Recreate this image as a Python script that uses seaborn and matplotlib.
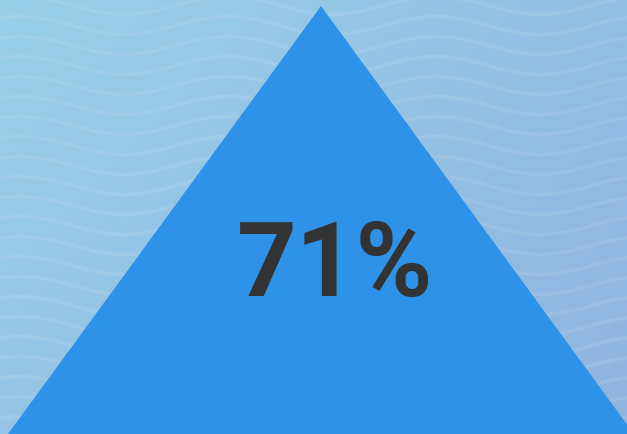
import numpy as np
import seaborn as sns
import matplotlib.pyplot as plt
from matplotlib.colors import LinearSegmentedColormap

# Chart data
value = 71
label = f"{value}%"

# Canvas size in pixels
W, H = 627, 434

# Styling
bg_colors = ["#99cfea", "#8fb4df"]
shape_color = "#2e93e8"
text_color = "#333333"
wave_spacing = 20
wave_period = 208
wave_amp = 9

sns.set_theme(style="white")
plt.rcParams['font.family'] = ['Roboto', 'DejaVu Sans']

fig = plt.figure(figsize=(W / 100, H / 100), dpi=100)
ax = fig.add_axes([0, 0, 1, 1])
ax.set_xlim(0, W)
ax.set_ylim(H, 0)
ax.axis('off')

# Diagonal gradient background
gx, gy = np.meshgrid(np.linspace(0, 1, 200), np.linspace(0, 1, 200))
grad = (gx * 0.6 + gy * 0.4)
cmap = LinearSegmentedColormap.from_list("bg", bg_colors)
ax.imshow(grad, cmap=cmap, extent=[0, W, H, 0], aspect='auto', zorder=0)

# Faint wavy lines
xs = np.linspace(0, W, 800)
for c in np.arange(5.5, H + 20, wave_spacing):
    ys = c - wave_amp * np.cos(2 * np.pi * (xs - 20) / wave_period)
    ax.plot(xs, ys, color="white", alpha=0.09, lw=2.6, zorder=1)

# Triangle shape
apex_x, apex_y = 321, 6
half_base = 313
ax.fill([apex_x, apex_x - half_base, apex_x + half_base],
        [apex_y, H, H], color=shape_color, lw=0, zorder=2)

ax.text(335, 296, label, ha='center', va='baseline', fontsize=75,
        fontweight='bold', color=text_color, zorder=3)

fig.savefig("out.png", dpi=100)
